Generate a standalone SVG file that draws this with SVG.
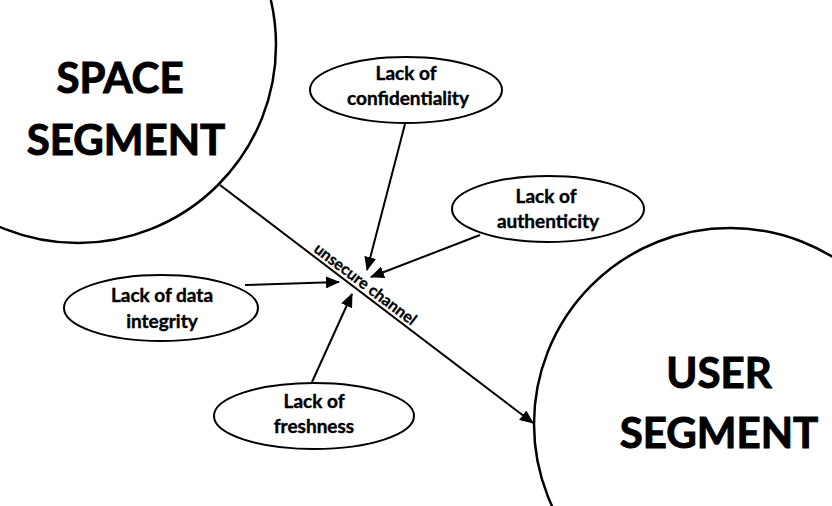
<svg xmlns="http://www.w3.org/2000/svg" width="832" height="506" viewBox="0 0 832 506">
  <defs>
    <marker id="arrow" markerUnits="userSpaceOnUse" markerWidth="14" markerHeight="12" refX="13" refY="6" orient="auto">
      <path d="M0,0 L14,6 L0,12 Z" fill="#000"/>
    </marker>
    <style>
      .seg { fill: #fff; stroke: #000; stroke-width: 2.5; }
      .threat { fill: #fff; stroke: #000; stroke-width: 2; }
      .big { font-family: Lato, "Liberation Sans", sans-serif; font-weight: bold; font-size: 42px; fill: #000; stroke: #000; stroke-width: 1; text-anchor: middle; }
      .lbl { font-family: Lato, "Liberation Sans", sans-serif; font-weight: bold; font-size: 19px; fill: #000; stroke: #000; stroke-width: 0.4; text-anchor: middle; }
      .chan { font-family: Lato, "Liberation Sans", sans-serif; font-weight: bold; font-size: 16px; fill: #000; stroke: #000; stroke-width: 0.3; text-anchor: middle; }
      .conn { stroke: #000; stroke-width: 2; fill: none; marker-end: url(#arrow); }
    </style>
  </defs>
  <rect width="832" height="506" fill="#fff"/>

  <!-- segments -->
  <g id="space-segment">
    <circle class="seg" cx="78" cy="45" r="198"/>
    <text class="big" x="120" y="93">SPACE</text>
    <text class="big" x="126" y="155">SEGMENT</text>
  </g>
  <g id="user-segment">
    <circle class="seg" cx="730" cy="424" r="196"/>
    <text class="big" x="719" y="388">USER</text>
    <text class="big" x="719" y="448">SEGMENT</text>
  </g>

  <!-- connectors -->
  <g id="connectors">
    <line class="conn" x1="220" y1="185" x2="533" y2="423"/>
    <line class="conn" x1="405" y1="124" x2="367" y2="270"/>
    <line class="conn" x1="480" y1="235" x2="371" y2="277"/>
    <line class="conn" x1="245" y1="285" x2="339" y2="282"/>
    <line class="conn" x1="312" y1="382" x2="352" y2="294"/>
    <text class="chan" transform="translate(362,288.5) rotate(37.2)">unsecure channel</text>
  </g>

  <!-- threats -->
  <g id="confidentiality">
    <ellipse class="threat" cx="406" cy="90" rx="96" ry="33"/>
    <text class="lbl" x="406" y="80">Lack of</text>
    <text class="lbl" x="408" y="105">confidentiality</text>
  </g>
  <g id="authenticity">
    <ellipse class="threat" cx="548" cy="209" rx="96" ry="33"/>
    <text class="lbl" x="546" y="203">Lack of</text>
    <text class="lbl" x="548" y="228">authenticity</text>
  </g>
  <g id="data-integrity">
    <ellipse class="threat" cx="161" cy="308" rx="97" ry="33"/>
    <text class="lbl" x="162" y="302">Lack of data</text>
    <text class="lbl" x="162" y="328">integrity</text>
  </g>
  <g id="freshness">
    <ellipse class="threat" cx="314" cy="416" rx="100" ry="33"/>
    <text class="lbl" x="314" y="408">Lack of</text>
    <text class="lbl" x="314" y="433">freshness</text>
  </g>
</svg>
